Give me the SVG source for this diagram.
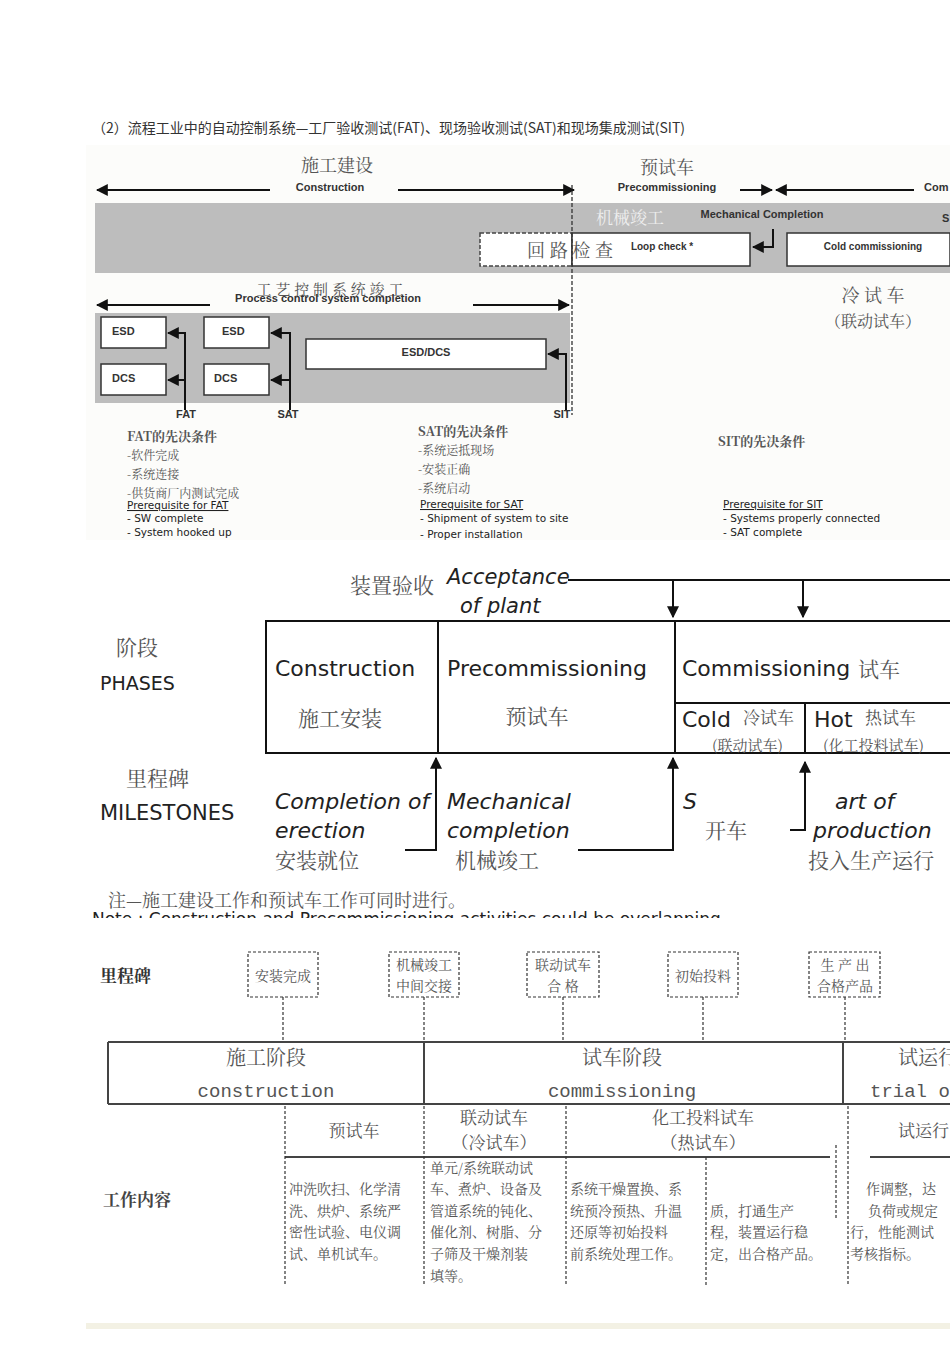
<svg xmlns="http://www.w3.org/2000/svg" width="950" height="1345" viewBox="0 0 950 1345">
<style>
.c{font-family:"Noto Sans CJK SC",sans-serif;fill:#333}
.s{font-family:"Noto Serif CJK SC","Noto Sans CJK SC",serif;fill:#555}
.a{font-family:"Liberation Sans",Arial,sans-serif;font-weight:bold;fill:#333}
.r{font-family:"DejaVu Sans",sans-serif;fill:#222}
.ln{stroke:#111;stroke-width:2;fill:none}
.bx{fill:#fff;stroke:#333;stroke-width:1.5}
.dsh{stroke:#333;stroke-width:1.2;stroke-dasharray:3 2;fill:none}
</style>
<defs>
<marker id="ah" viewBox="0 0 10 10" refX="9" refY="5" markerWidth="6" markerHeight="6" orient="auto"><path d="M0,0L10,5L0,10z" fill="#111"/></marker>
</defs>
<rect width="950" height="1345" fill="#fff"/>
<text x="92" y="133" class="c" font-size="14">（2）流程工业中的自动控制系统—工厂验收测试(FAT)、现场验收测试(SAT)和现场集成测试(SIT)</text>

<g id="top">
<rect x="86" y="145" width="864" height="395" fill="#fcfcfa"/>
<text x="337" y="172" class="s" font-size="18" text-anchor="middle">施工建设</text>
<text x="330" y="191" class="a" font-size="11" text-anchor="middle">Construction</text>
<text x="667" y="174" class="s" font-size="18" text-anchor="middle">预试车</text>
<text x="667" y="191" class="a" font-size="11" text-anchor="middle">Precommissioning</text>
<text x="924" y="191" class="a" font-size="11">Com</text>
<rect x="95" y="203" width="855" height="70" fill="#bdbdbd"/>
<rect x="95" y="313" width="475" height="90" fill="#bdbdbd"/>
<text x="630" y="224" class="s" font-size="17" fill="#eee" style="fill:#eee" text-anchor="middle">机械竣工</text>
<text x="762" y="218" class="a" font-size="11" text-anchor="middle">Mechanical Completion</text>
<text x="942" y="222" class="a" font-size="11">S</text>
<rect x="480" y="233" width="92" height="33" fill="#fff" stroke="#444" stroke-width="1.5" stroke-dasharray="4 2"/>
<rect x="572" y="233" width="178" height="33" class="bx"/>
<text x="570" y="257" class="s" font-size="18" text-anchor="middle">回 路 检 查</text>
<text x="662" y="250" class="a" font-size="10" text-anchor="middle">Loop check *</text>
<rect x="787" y="233" width="163" height="33" class="bx"/>
<text x="873" y="250" class="a" font-size="10" text-anchor="middle">Cold commissioning</text>
<text x="330" y="295" class="s" font-size="15" text-anchor="middle">工 艺 控 制 系 统 竣 工</text>
<text x="328" y="302" class="a" font-size="11" text-anchor="middle">Process control system completion</text>
<text x="873" y="302" class="s" font-size="18" text-anchor="middle">冷 试 车</text>
<text x="873" y="327" class="s" font-size="16" text-anchor="middle">（联动试车）</text>
<rect x="101" y="317" width="65" height="31" class="bx"/>
<rect x="101" y="364" width="65" height="31" class="bx"/>
<rect x="204" y="317" width="65" height="31" class="bx"/>
<rect x="204" y="364" width="65" height="31" class="bx"/>
<rect x="306" y="339" width="240" height="30" class="bx"/>
<text x="112" y="335" class="a" font-size="11">ESD</text>
<text x="112" y="382" class="a" font-size="11">DCS</text>
<text x="222" y="335" class="a" font-size="11">ESD</text>
<text x="214" y="382" class="a" font-size="11">DCS</text>
<text x="426" y="356" class="a" font-size="11" text-anchor="middle">ESD/DCS</text>
<text x="186" y="418" class="a" font-size="11" text-anchor="middle">FAT</text>
<text x="288" y="418" class="a" font-size="11" text-anchor="middle">SAT</text>
<text x="562" y="418" class="a" font-size="11" text-anchor="middle">SIT</text>
<text x="127" y="441" class="s" font-size="13" font-weight="bold">FAT的先决条件</text>
<text x="127" y="460" class="s" font-size="12">-软件完成</text>
<text x="127" y="479" class="s" font-size="12">-系统连接</text>
<text x="127" y="498" class="s" font-size="12">-供货商厂内测试完成</text>
<text x="127" y="509" class="r" font-size="10.5" text-decoration="underline">Prerequisite for FAT</text>
<text x="127" y="522" class="r" font-size="10.5">-        SW complete</text>
<text x="127" y="536" class="r" font-size="10.5">-        System hooked up</text>
<text x="418" y="436" class="s" font-size="13" font-weight="bold">SAT的先决条件</text>
<text x="418" y="455" class="s" font-size="12">-系统运抵现场</text>
<text x="418" y="474" class="s" font-size="12">-安装正确</text>
<text x="418" y="493" class="s" font-size="12">-系统启动</text>
<text x="420" y="508" class="r" font-size="10.5" text-decoration="underline">Prerequisite for SAT</text>
<text x="420" y="522" class="r" font-size="10.5">-        Shipment of system to site</text>
<text x="420" y="538" class="r" font-size="10.5">-        Proper installation</text>
<text x="718" y="446" class="s" font-size="13" font-weight="bold">SIT的先决条件</text>
<text x="723" y="508" class="r" font-size="10.5" text-decoration="underline">Prerequisite for SIT</text>
<text x="723" y="522" class="r" font-size="10.5">-        Systems properly connected</text>
<text x="723" y="536" class="r" font-size="10.5">-        SAT complete</text>
</g>
<g id="top-connectors">
<line x1="270" y1="190" x2="97" y2="190" class="ln" marker-end="url(#ah)"/>
<line x1="398" y1="190" x2="574" y2="190" class="ln" marker-end="url(#ah)"/>
<line x1="740" y1="190" x2="772" y2="190" class="ln" marker-end="url(#ah)"/>
<line x1="914" y1="190" x2="776" y2="190" class="ln" marker-end="url(#ah)"/>
<line x1="210" y1="305" x2="97" y2="305" class="ln" marker-end="url(#ah)"/>
<line x1="473" y1="305" x2="569" y2="305" class="ln" marker-end="url(#ah)"/>
<line x1="572" y1="185" x2="572" y2="415" stroke="#333" stroke-width="1.3" stroke-dasharray="4 2"/>
<path d="M773,229V247H753" class="ln" marker-end="url(#ah)"/>
<path d="M185,410V333H168" class="ln" marker-end="url(#ah)"/>
<path d="M185,380H168" class="ln" marker-end="url(#ah)"/>
<path d="M290,410V333H271" class="ln" marker-end="url(#ah)"/>
<path d="M290,380H271" class="ln" marker-end="url(#ah)"/>
<path d="M566,410V354H548" class="ln" marker-end="url(#ah)"/>
</g>

<g id="mid">
<text x="392" y="593" class="s" font-size="21" text-anchor="middle">装置验收</text>
<text x="447" y="584" class="r" font-size="21" font-style="italic">Acceptance</text>
<text x="460" y="613" class="r" font-size="21" font-style="italic">of plant</text>
<text x="116" y="655" class="s" font-size="21">阶段</text>
<text x="100" y="690" class="r" font-size="19">PHASES</text>
<text x="126" y="786" class="s" font-size="21">里程碑</text>
<text x="100" y="820" class="r" font-size="21">MILESTONES</text>
<rect x="266" y="621" width="700" height="132" fill="none" stroke="#111" stroke-width="2"/>
<line x1="438" y1="621" x2="438" y2="753" stroke="#111" stroke-width="2"/>
<line x1="675" y1="621" x2="675" y2="753" stroke="#111" stroke-width="2"/>
<line x1="675" y1="703" x2="950" y2="703" stroke="#111" stroke-width="2"/>
<line x1="805" y1="703" x2="805" y2="753" stroke="#111" stroke-width="2"/>
<text x="275" y="676" class="r" font-size="22">Construction</text>
<text x="340" y="726" class="s" font-size="21" text-anchor="middle">施工安装</text>
<text x="447" y="676" class="r" font-size="22">Precommissioning</text>
<text x="537" y="724" class="s" font-size="21" text-anchor="middle">预试车</text>
<text x="682" y="676" class="r" font-size="22">Commissioning</text>
<text x="858" y="677" class="s" font-size="21">试车</text>
<text x="682" y="727" class="r" font-size="22">Cold</text>
<text x="743" y="724" class="s" font-size="17">冷试车</text>
<text x="712" y="751" class="s" font-size="15">(联动试车)</text>
<text x="814" y="727" class="r" font-size="22">Hot</text>
<text x="865" y="724" class="s" font-size="17">热试车</text>
<text x="823" y="751" class="s" font-size="15">(化工投料试车)</text>
<text x="275" y="809" class="r" font-size="22" font-style="italic">Completion   of</text>
<text x="275" y="838" class="r" font-size="22" font-style="italic">erection</text>
<text x="275" y="868" class="s" font-size="21">安装就位</text>
<text x="447" y="809" class="r" font-size="22" font-style="italic">Mechanical</text>
<text x="447" y="838" class="r" font-size="22" font-style="italic">completion</text>
<text x="455" y="868" class="s" font-size="21">机械竣工</text>
<text x="683" y="809" class="r" font-size="22" font-style="italic">S</text>
<text x="705" y="838" class="s" font-size="21">开车</text>
<text x="835" y="809" class="r" font-size="22" font-style="italic">art of</text>
<text x="813" y="838" class="r" font-size="22" font-style="italic">production</text>
<text x="808" y="868" class="s" font-size="21">投入生产运行</text>
<text x="108" y="907" class="s" font-size="18">注—施工建设工作和预试车工作可同时进行。</text>
<text x="92" y="925" class="r" font-size="17">Note : Construction and Precommissioning activities could be overlapping</text>
<rect x="86" y="918" width="864" height="12" fill="#fff"/>
</g>
<g id="mid-connectors">
<line x1="568" y1="580" x2="950" y2="580" stroke="#111" stroke-width="2"/>
<line x1="673" y1="580" x2="673" y2="617" class="ln" marker-end="url(#ah)"/>
<line x1="803" y1="580" x2="803" y2="617" class="ln" marker-end="url(#ah)"/>
<path d="M405,850H436V758" class="ln" marker-end="url(#ah)"/>
<path d="M578,850H673V758" class="ln" marker-end="url(#ah)"/>
<path d="M790,830H805V762" class="ln" marker-end="url(#ah)"/>
</g>

<g id="bottom">
<text x="100" y="982" class="s" font-size="17" font-weight="bold" style="fill:#333">里程碑</text>
<rect x="248" y="952" width="70" height="45" fill="none" class="dsh"/>
<rect x="389" y="952" width="70" height="45" class="dsh"/>
<rect x="527" y="952" width="72" height="45" class="dsh"/>
<rect x="668" y="952" width="70" height="45" class="dsh"/>
<rect x="809" y="952" width="71" height="45" class="dsh"/>
<text x="283" y="981" class="s" font-size="14" text-anchor="middle">安装完成</text>
<text x="424" y="970" class="s" font-size="14" text-anchor="middle">机械竣工</text>
<text x="424" y="991" class="s" font-size="14" text-anchor="middle">中间交接</text>
<text x="563" y="970" class="s" font-size="14" text-anchor="middle">联动试车</text>
<text x="563" y="991" class="s" font-size="14" text-anchor="middle">合  格</text>
<text x="703" y="981" class="s" font-size="14" text-anchor="middle">初始投料</text>
<text x="845" y="970" class="s" font-size="14" text-anchor="middle">生 产 出</text>
<text x="845" y="991" class="s" font-size="14" text-anchor="middle">合格产品</text>
<line x1="108" y1="1042" x2="950" y2="1042" stroke="#444" stroke-width="2"/>
<line x1="108" y1="1104" x2="950" y2="1104" stroke="#444" stroke-width="2"/>
<line x1="108" y1="1042" x2="108" y2="1104" stroke="#444" stroke-width="2"/>
<line x1="424" y1="1042" x2="424" y2="1104" stroke="#444" stroke-width="2"/>
<line x1="843" y1="1042" x2="843" y2="1104" stroke="#444" stroke-width="2"/>
<text x="266" y="1065" class="s" font-size="20" text-anchor="middle">施工阶段</text>
<text x="266" y="1097" class="r" font-size="19" style="font-family:'Liberation Mono',monospace;fill:#555" text-anchor="middle">construction</text>
<text x="622" y="1065" class="s" font-size="20" text-anchor="middle">试车阶段</text>
<text x="622" y="1097" font-size="19" style="font-family:'Liberation Mono',monospace;fill:#555" text-anchor="middle">commissioning</text>
<text x="898" y="1065" class="s" font-size="20">试运行</text>
<text x="870" y="1097" font-size="19" style="font-family:'Liberation Mono',monospace;fill:#555">trial o</text>
<line x1="285" y1="1157" x2="830" y2="1157" stroke="#444" stroke-width="2"/>
<line x1="870" y1="1157" x2="950" y2="1157" stroke="#444" stroke-width="2"/>
<text x="354" y="1137" class="s" font-size="17" text-anchor="middle">预试车</text>
<text x="494" y="1124" class="s" font-size="17" text-anchor="middle">联动试车</text>
<text x="494" y="1149" class="s" font-size="17" text-anchor="middle">（冷试车）</text>
<text x="703" y="1124" class="s" font-size="17" text-anchor="middle">化工投料试车</text>
<text x="703" y="1149" class="s" font-size="17" text-anchor="middle">（热试车）</text>
<text x="898" y="1137" class="s" font-size="17">试运行</text>
<text x="103" y="1206" class="s" font-size="17" font-weight="bold" style="fill:#444">工作内容</text>
<g class="s" font-size="14">
<text x="289" y="1194">冲洗吹扫、化学清</text><text x="289" y="1216">洗、烘炉、系统严</text><text x="289" y="1237">密性试验、电仪调</text><text x="289" y="1259">试、单机试车。</text>
<text x="430" y="1173">单元/系统联动试</text><text x="430" y="1194">车、煮炉、设备及</text><text x="430" y="1216">管道系统的钝化、</text><text x="430" y="1237">催化剂、树脂、分</text><text x="430" y="1259">子筛及干燥剂装</text><text x="430" y="1281">填等。</text>
<text x="570" y="1194">系统干燥置换、系</text><text x="570" y="1216">统预冷预热、升温</text><text x="570" y="1237">还原等初始投料</text><text x="570" y="1259">前系统处理工作。</text>
<text x="710" y="1216">质，打通生产</text><text x="710" y="1237">程，装置运行稳</text><text x="710" y="1259">定，出合格产品。</text>
<text x="866" y="1194">作调整，达</text><text x="868" y="1216">负荷或规定</text><text x="850" y="1237">行，性能测试</text><text x="850" y="1259">考核指标。</text>
</g>
<rect x="86" y="1323" width="864" height="6" fill="#f3f1e4"/>
</g>
<g id="bottom-connectors">
<line x1="283" y1="997" x2="283" y2="1040" class="dsh"/>
<line x1="424" y1="997" x2="424" y2="1040" class="dsh"/>
<line x1="563" y1="997" x2="563" y2="1040" class="dsh"/>
<line x1="703" y1="997" x2="703" y2="1040" class="dsh"/>
<line x1="845" y1="997" x2="845" y2="1040" class="dsh"/>
<line x1="285" y1="1106" x2="285" y2="1285" class="dsh"/>
<line x1="424" y1="1106" x2="424" y2="1285" class="dsh"/>
<line x1="566" y1="1106" x2="566" y2="1285" class="dsh"/>
<line x1="706" y1="1157" x2="706" y2="1285" class="dsh"/>
<line x1="836" y1="1145" x2="836" y2="1220" class="dsh"/>
<line x1="848" y1="1106" x2="848" y2="1285" class="dsh"/>
</g>
</svg>
